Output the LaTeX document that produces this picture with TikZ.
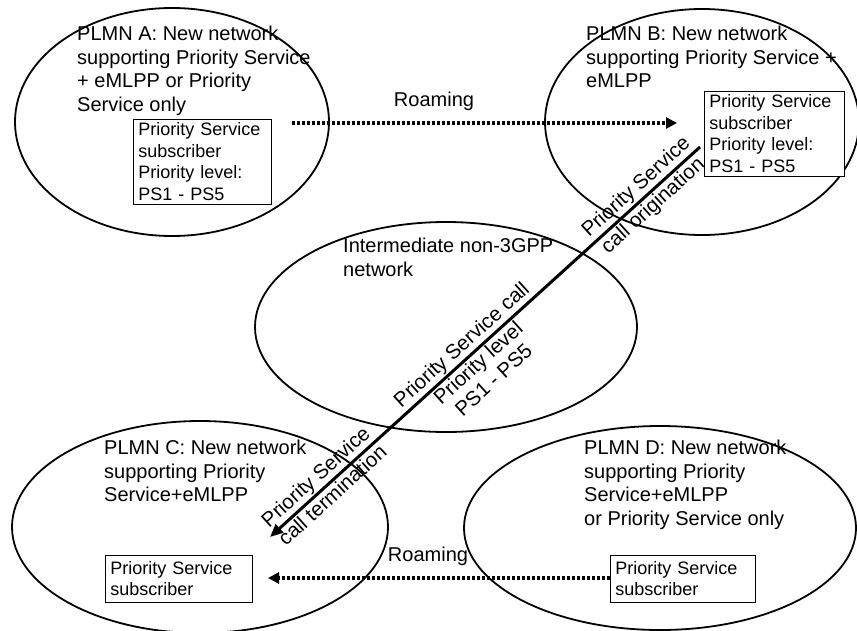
\documentclass[tikz,border=0pt]{standalone}
\usepackage{fontspec}
\setmainfont{Liberation Sans}
\usetikzlibrary{arrows.meta,shapes.geometric}
\begin{document}
\begin{tikzpicture}[x=1pt,y=-1pt,
  net/.style={draw, ellipse, line width=1.8pt, inner sep=0pt},
  lbl/.style={align=left, inner sep=0pt, anchor=north west, font=\fontsize{20}{23.5}\selectfont},
  subbox/.style={draw, line width=0.8pt, fill=white, align=left, anchor=north west,
    inner xsep=5pt, inner ysep=3.5pt, font=\fontsize{18}{21.5}\selectfont},
  roam/.style={line width=3.2pt, dash pattern=on 3.2pt off 1.8pt, -{Triangle[length=11pt,width=11pt]}},
  roamlbl/.style={inner sep=0pt, font=\fontsize{20}{23}\selectfont},
  callline/.style={line width=3pt, -{Triangle[length=13pt,width=11pt]}},
  ctext/.style={sloped, inner sep=1.5pt, align=center, font=\fontsize{20.5}{23}\selectfont}
]
\useasboundingbox (0,0) rectangle (857,630);

% networks
\node[net, minimum width=314pt, minimum height=228pt] (plmnA) at (172,122) {};
\node[net, minimum width=314pt, minimum height=226pt] (plmnB) at (702,122) {};
\node[net, minimum width=382pt, minimum height=210pt] (inter) at (446,327) {};
\node[net, minimum width=376pt, minimum height=212pt] (plmnC) at (200,527) {};
\node[net, minimum width=392pt, minimum height=204pt] (plmnD) at (660,528) {};

% labels
\node[lbl] (labA) at (77,26) {PLMN A: New network\\supporting Priority Service\\+ eMLPP or Priority\\Service only};
\node[lbl] (labB) at (586,26) {PLMN B: New network\\supporting Priority Service +\\eMLPP};
\node[lbl] (labI) at (343,238) {Intermediate non-3GPP\\network};
\node[lbl] (labC) at (104,440) {PLMN C: New network\\supporting Priority\\Service+eMLPP};
\node[lbl] (labD) at (584,440) {PLMN D: New network\\supporting Priority\\Service+eMLPP\\or Priority Service only};

% subscriber boxes
\node[subbox, text width=128pt] (boxA) at (133,119) {Priority Service\\subscriber\\Priority level:\\PS1 - PS5};
\node[subbox, text width=130pt] (boxB) at (704,91) {Priority Service\\subscriber\\Priority level:\\PS1 - PS5};
\node[subbox, text width=137pt, inner ysep=6pt] (boxC) at (105,555) {Priority Service\\subscriber};
\node[subbox, text width=135pt, inner ysep=6pt] (boxD) at (610,555) {Priority Service\\subscriber};

% roaming arrows
\coordinate (rA) at (292,123);
\coordinate (rB) at (677,123);
\draw[roam] (rA) -- (rB);
\node[roamlbl] (roam1) at (434,101) {Roaming};
\coordinate (rD) at (610,578);
\coordinate (rC) at (268,578);
\draw[roam] (rD) -- (rC);
\node[roamlbl] (roam2) at (428,556) {Roaming};

% priority service call
\coordinate (orig) at (700,147);
\coordinate (term) at (270,537);
\draw[callline] (orig) -- (term)
  node[ctext, pos=0.128, above] (o1) {Priority Service}
  node[ctext, pos=0.128, below] (o2) {call origination}
  node[ctext, pos=0.533, above] (m1) {Priority Service call}
  node[ctext, pos=0.533, below] (m2) {Priority level\\PS1 - PS5}
  node[ctext, pos=0.872, above] (t1) {Priority Service}
  node[ctext, pos=0.872, below] (t2) {call termination};
\end{tikzpicture}
\end{document}
